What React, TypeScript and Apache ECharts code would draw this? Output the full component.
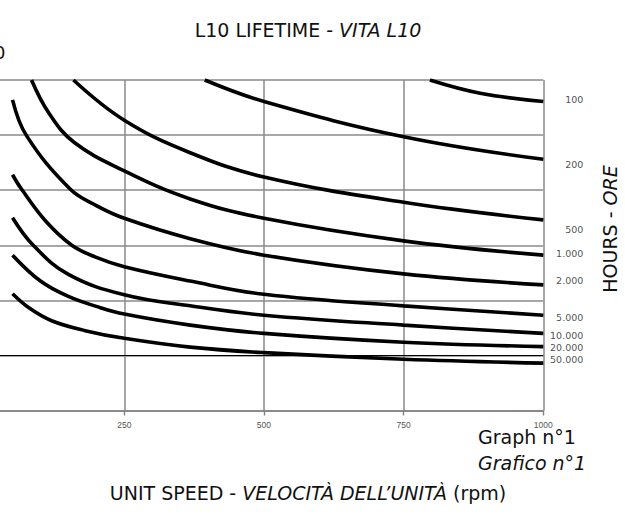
import React, { useEffect, useRef } from "react";
import * as echarts from "echarts";

// Unit speed (rpm) axis ticks
const X_TICKS = [0, 250, 500, 750, 1000];

// Curve names (hours)
const CURVE_NAMES = ["100", "200", "500", "1.000", "2.000", "5.000", "10.000", "20.000", "50.000"];

// Curves: [rpm, load value] pairs
const C100 = [[797, 600], [887, 576], [1000, 561]];
const C200 = [[394, 600], [500, 561], [750, 497], [1000, 456]];
const C500 = [[159, 600], [250, 527], [368, 468], [500, 424], [750, 378], [1000, 346]];
const C1000 = [[84, 600], [115, 540], [160, 487], [250, 435], [368, 384], [500, 349], [750, 308], [1000, 282]];
const C2000 = [[50, 564], [75, 499], [153, 402], [200, 372], [250, 349], [368, 312], [500, 282], [750, 248], [1000, 228]];
const C5000 = [[50, 428], [66, 402], [110, 343], [156, 300], [200, 278], [250, 261], [368, 235], [500, 211], [750, 190], [1000, 173]];
const C10000 = [[50, 350], [87, 300], [150, 247], [250, 210], [368, 190], [500, 173], [750, 155], [1000, 140]];
const C20000 = [[50, 282], [100, 235], [150, 207], [200, 189], [250, 175], [368, 155], [500, 140], [750, 124], [1000, 116]];
const C50000 = [[50, 212], [80, 186], [120, 163], [180, 145], [250, 131], [368, 115], [500, 105], [750, 93], [1000, 86]];
const CURVES = [C100, C200, C500, C1000, C2000, C5000, C10000, C20000, C50000];

// Levels at which the hour labels sit on the right side
const LABEL_LEVELS = [565, 446, 329, 285, 236, 168, 136, 115, 93];

// Reference (black) horizontal line level
const REF_LEVEL = 100;

const FONT = '"DejaVu Sans", Tahoma, sans-serif';
// The chart canvas starts this many px left of the page so the plot's left edge is cut off
const SHIFT = 16;

export default function App() {
  const ref = useRef<HTMLDivElement>(null);

  useEffect(() => {
    if (!ref.current) return;
    const chart = echarts.init(ref.current, undefined, { renderer: "svg" });

    const curveSeries = CURVES.map((data, i) => ({
      name: CURVE_NAMES[i],
      type: "line",
      data,
      smooth: 0.4,
      showSymbol: false,
      symbol: "none",
      clip: true,
      lineStyle: { color: "#000", width: 3.6 },
      z: 5,
      ...(i === 0
        ? {
            markLine: {
              silent: true,
              symbol: "none",
              label: { show: false },
              lineStyle: { color: "#000", width: 1, type: "solid" },
              data: [{ yAxis: REF_LEVEL }],
            },
          }
        : {}),
    }));

    const labelSeries = {
      type: "scatter",
      symbolSize: 0,
      silent: true,
      clip: false,
      data: LABEL_LEVELS.map((v, i) => ({ value: [1000, v], name: CURVE_NAMES[i] })),
      label: {
        show: true,
        position: [40, 0],
        align: "right",
        verticalAlign: "middle",
        formatter: (p: any) => p.name,
        fontSize: 9.5,
        color: "#222",
        fontFamily: FONT,
      },
    };

    chart.setOption({
      animation: false,
      backgroundColor: "#fff",
      grid: { left: 0.6, right: 81.7, top: 80, bottom: 111.5 },
      xAxis: {
        type: "value",
        min: X_TICKS[0],
        max: X_TICKS[X_TICKS.length - 1],
        interval: X_TICKS[1] - X_TICKS[0],
        axisLine: { show: true, lineStyle: { color: "#808080", width: 1.6 } },
        axisTick: { show: true, length: 5, lineStyle: { color: "#808080", width: 1.4 } },
        axisLabel: {
          show: true,
          fontSize: 8.5,
          color: "#555",
          fontFamily: '"Liberation Sans", Arial, sans-serif',
          margin: 10,
          showMinLabel: false,
          formatter: (v: number) => String(v),
        },
        splitLine: { show: true, lineStyle: { color: "#8a8a8a", width: 1.5 } },
      },
      yAxis: {
        type: "value",
        min: 0,
        max: 600,
        interval: 100,
        axisLine: { show: false },
        axisTick: { show: false },
        axisLabel: { show: false },
        splitLine: { show: true, lineStyle: { color: "#8a8a8a", width: 1.5 } },
      },
      graphic: [
        {
          type: "text",
          x: 308 + SHIFT,
          y: 30,
          style: {
            text: "{n|L10 LIFETIME - }{i|VITA L10}",
            align: "center",
            verticalAlign: "middle",
            rich: {
              n: { fontSize: 19, fontFamily: FONT, fill: "#111" },
              i: { fontSize: 19, fontFamily: FONT, fontStyle: "italic", fill: "#111" },
            },
          },
        },
        {
          type: "text",
          x: -6 + SHIFT,
          y: 52,
          style: { text: "0", fontSize: 18, fontFamily: FONT, fill: "#111", verticalAlign: "middle" },
        },
        {
          type: "text",
          x: 610 + SHIFT,
          y: 229,
          rotation: Math.PI / 2,
          style: {
            text: "{n|HOURS - }{i|ORE}",
            align: "center",
            verticalAlign: "middle",
            rich: {
              n: { fontSize: 19, fontFamily: FONT, fill: "#111" },
              i: { fontSize: 19, fontFamily: FONT, fontStyle: "italic", fill: "#111" },
            },
          },
        },
        {
          type: "text",
          x: 478 + SHIFT,
          y: 437,
          style: { text: "Graph n°1", fontSize: 19, fontFamily: FONT, fill: "#111", verticalAlign: "middle" },
        },
        {
          type: "text",
          x: 478 + SHIFT,
          y: 463,
          style: {
            text: "Grafico n°1",
            fontSize: 19,
            fontStyle: "italic",
            fontFamily: FONT,
            fill: "#111",
            verticalAlign: "middle",
          },
        },
        {
          type: "text",
          x: 308 + SHIFT,
          y: 493,
          style: {
            text: "{n|UNIT SPEED - }{i|VELOCITÀ DELL’UNITÀ}{n| (rpm)}",
            align: "center",
            verticalAlign: "middle",
            rich: {
              n: { fontSize: 19, fontFamily: FONT, fill: "#111" },
              i: { fontSize: 19, fontFamily: FONT, fontStyle: "italic", fill: "#111" },
            },
          },
        },
      ],
      series: [...curveSeries, labelSeries],
    });

    return () => chart.dispose();
  }, []);

  return (
    <div
      ref={ref}
      style={{
        position: "absolute",
        left: -SHIFT,
        top: 0,
        width: 625 + SHIFT,
        height: 522,
        background: "#fff",
      }}
    />
  );
}
